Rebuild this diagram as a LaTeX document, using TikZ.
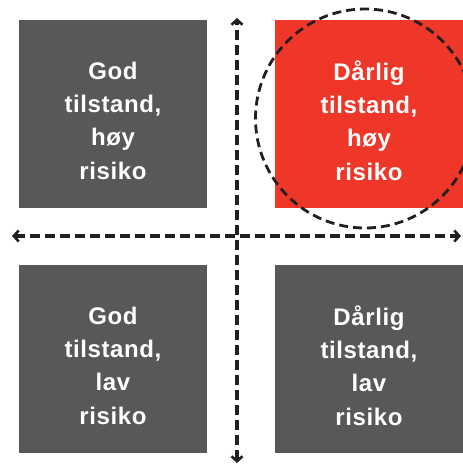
\documentclass[tikz,border=0pt]{standalone}
\usepackage{fontspec}
\setmainfont{Liberation Sans}
\usetikzlibrary{arrows.meta}
\definecolor{boxgray}{HTML}{58585A}
\definecolor{boxred}{HTML}{EE3728}
\definecolor{linedark}{HTML}{231F20}

\begin{document}
\begin{tikzpicture}[x=1pt,y=-1pt,
    quad_node/.style={rectangle,fill=boxgray,minimum size=188pt,inner sep=0pt},
    quad_text/.style={text=white,align=center,yshift=-7pt,
        font=\fontsize{24}{33.3}\selectfont\bfseries\addfontfeatures{LetterSpace=2.5}},
    axis_line/.style={draw=linedark,line width=3.2pt,dash pattern=on 10pt off 5pt,
        {Straight Barb[length=5pt,width=11pt,line width=2.6pt]}-{Straight Barb[length=5pt,width=11pt,line width=2.6pt]}}]

    \useasboundingbox (0,0) rectangle (463,466);

	\node[quad_node, label={[quad_text]center:God\\tilstand,\\høy\\risiko}] (gh) at (113,113.5) {};
	\node[quad_node, fill=boxred, label={[quad_text]center:Dårlig\\tilstand,\\høy\\risiko}] (dh) at (369,113.5) {};
	\node[quad_node, label={[quad_text]center:God\\tilstand,\\lav\\risiko}] (gl) at (113,358.5) {};
	\node[quad_node, label={[quad_text]center:Dårlig\\tilstand,\\lav\\risiko}] (dl) at (369,358.5) {};

    \node[circle,draw=linedark,line width=2.8pt,dash pattern=on 9pt off 5pt,
        minimum size=219pt] (focus) at (365,118.5) {};

    \coordinate (left)   at (12,236);
    \coordinate (right)  at (461,236);
    \coordinate (top)    at (237,18);
    \coordinate (bottom) at (237,463);

    \draw[axis_line] (left) -- (right);
    \draw[axis_line] (bottom) -- (top);

\end{tikzpicture}
\end{document}
